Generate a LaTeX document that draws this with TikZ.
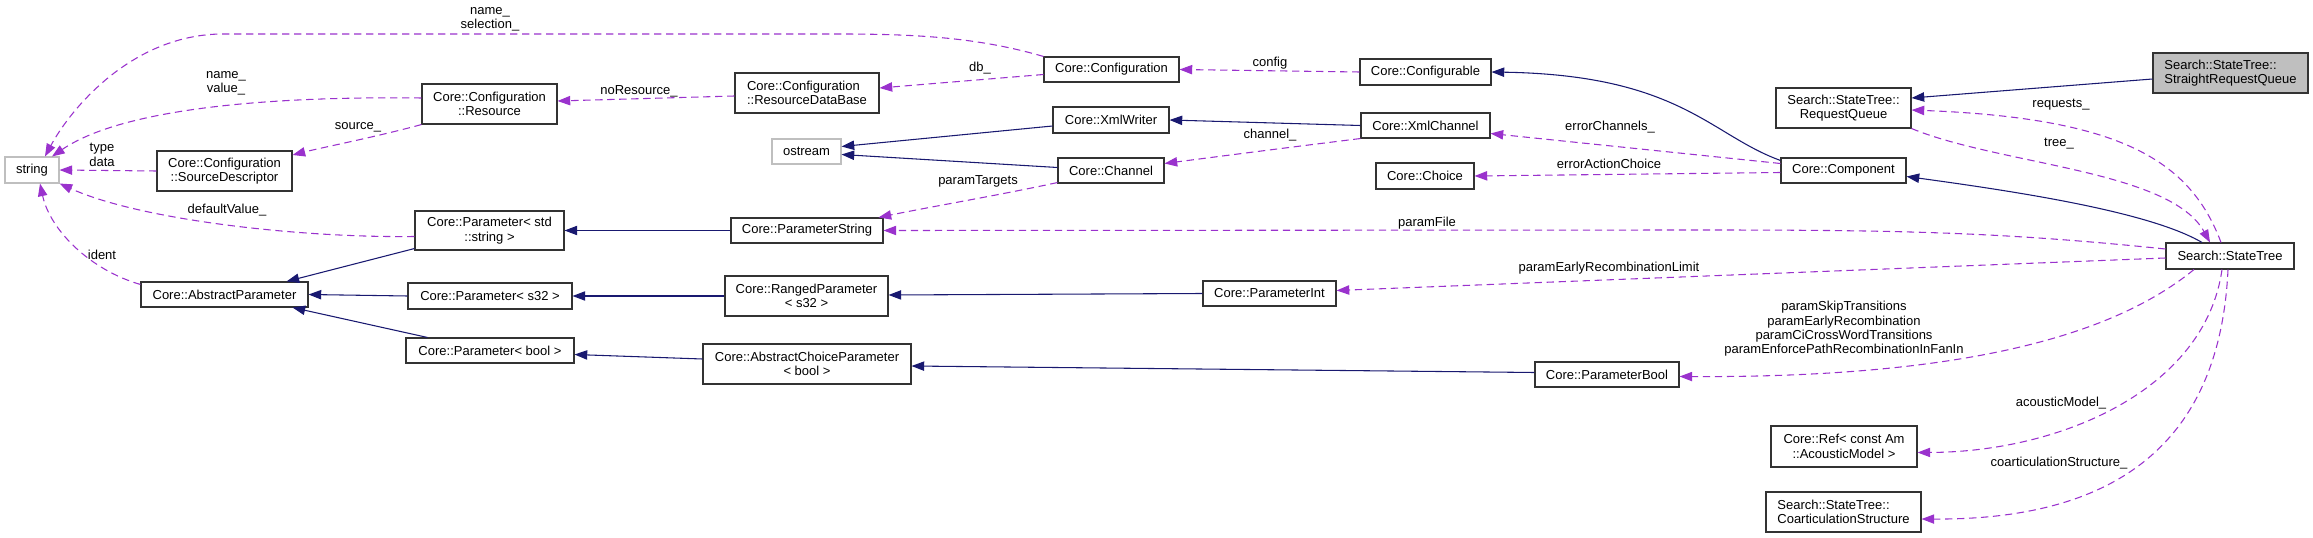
\documentclass[tikz,border=0pt]{standalone}
\usepackage{fontspec}
\setmainfont{Liberation Sans}
\usetikzlibrary{arrows.meta,calc}
\definecolor{navy}{RGB}{25,25,112}
\definecolor{purp}{RGB}{154,50,205}
\definecolor{extgray}{RGB}{191,191,191}
\newcommand\dxfont{\fontsize{9.75pt}{10.8pt}\selectfont}
\tikzset{
  cls/.style={draw=black!80, line width=0.8pt, fill=white, inner sep=0pt, align=center, font=\dxfont},
  extcls/.style={cls, draw=extgray},
  focus/.style={cls, fill=extgray},
  sz/.style 2 args={minimum width=#1*0.75pt, minimum height=#2*0.75pt},
  inh/.style={draw=navy, line width=0.8pt, -{Triangle[length=9.5pt,width=7pt]}},
  uses/.style={draw=purp, line width=0.8pt, dash pattern=on 5.5pt off 3.5pt, -{Triangle[length=9.5pt,width=7pt]}},
  lbl/.style={inner sep=0pt, align=center, font=\dxfont}
}
\begin{document}
\begin{tikzpicture}[x=0.75pt, y=-0.75pt]
\useasboundingbox (0,0) rectangle (2313,538);
% nodes
\node[extcls, sz={54}{26}] (string) at (32,170) {string};
\node[cls, sz={135}{40}] (resource) at (489.5,104) {Core::Configuration\\::Resource};
\node[cls, sz={135}{40}] (srcdesc) at (224.5,171) {Core::Configuration\\::SourceDescriptor};
\node[cls, sz={149}{39}] (pstdstr) at (489.5,230.5) {Core::Parameter< std\\::string >};
\node[cls, sz={167}{25}] (absparam) at (224.5,294.5) {Core::AbstractParameter};
\node[cls, sz={164}{26}] (ps32) at (490,296) {Core::Parameter< s32 >};
\node[cls, sz={168}{25}] (pbool) at (490,350.5) {Core::Parameter< bool >};
\node[cls, sz={144}{40}, align=left] (rdb) at (807,93) {Core::Configuration\\::ResourceDataBase};
\node[cls, sz={135}{25}] (config) at (1111.5,69.5) {Core::Configuration};
\node[cls, sz={131}{26}] (configurable) at (1425.5,72) {Core::Configurable};
\node[cls, sz={116}{26}] (xmlwriter) at (1111,120) {Core::XmlWriter};
\node[extcls, sz={69}{25}] (ostream) at (806.5,151.5) {ostream};
\node[cls, sz={129}{25}] (xmlchannel) at (1425.5,125.5) {Core::XmlChannel};
\node[cls, sz={106}{25}] (channel) at (1111,170.5) {Core::Channel};
\node[cls, sz={98}{26}] (choice) at (1425,176) {Core::Choice};
\node[cls, sz={152}{25}] (pstring) at (807,230.5) {Core::ParameterString};
\node[cls, sz={163}{40}] (ranged) at (806.5,296) {Core::RangedParameter\\< s32 >};
\node[cls, sz={133}{25}] (pint) at (1269.5,293.5) {Core::ParameterInt};
\node[cls, sz={208}{40}] (acp) at (807,364) {Core::AbstractChoiceParameter\\< bool >};
\node[focus, sz={155}{40}, align=left] (srq) at (2230.5,73) {Search::StateTree::\\StraightRequestQueue};
\node[cls, sz={135}{40}] (rq) at (1843.5,108) {Search::StateTree::\\RequestQueue};
\node[cls, sz={125}{25}] (component) at (1843.5,170.5) {Core::Component};
\node[cls, sz={128}{26}] (statetree) at (2230,256) {Search::StateTree};
\node[cls, sz={144}{25}] (pbool2) at (1607,374.5) {Core::ParameterBool};
\node[cls, sz={146}{41}] (ref) at (1844,446.5) {Core::Ref< const Am\\::AcousticModel >};
\node[cls, sz={155}{40}, align=left] (coart) at (1843.5,512) {Search::StateTree::\\CoarticulationStructure};

% inheritance edges
\draw[inh] ($(srq.west)+(0,6)$) -- ($(rq.east)+(0,-10)$);
\draw[inh] ($(component.north west)+(0,3)$) .. controls (1710,135) and (1680,75) .. (configurable.east);
\draw[inh] ($(statetree.north)+(-28,0)$) .. controls (2150,212) and (2020,192) .. ($(component.east)+(0,6)$);
\draw[inh] (xmlchannel.west) -- (xmlwriter.east);
\draw[inh] ($(xmlwriter.west)+(0,6)$) -- ($(ostream.east)+(0,-5)$);
\draw[inh] ($(channel.west)+(0,-3)$) -- ($(ostream.east)+(0,3)$);
\draw[inh] ($(pstdstr.south west)+(0,-2)$) -- ($(absparam.north)+(62,0)$);
\draw[inh] (ps32.west) -- (absparam.east);
\draw[inh] ($(pbool.north west)+(22,0)$) -- ($(absparam.south)+(68,0)$);
\draw[inh] (pstring.west) -- (pstdstr.east);
\draw[inh] (ranged.west) -- (ps32.east);
\draw[inh] (pint.west) -- ($(ranged.east)+(0,-1)$);
\draw[inh] ($(acp.west)+(0,-5)$) -- ($(pbool.east)+(0,4)$);
\draw[inh] ($(pbool2.west)+(0,-2)$) -- ($(acp.east)+(0,2)$);

% usage edges
\draw[uses] (config.north west) .. controls (980,38) and (920,34) .. (840,34) -- (220,34) .. controls (130,36) and (70,110) .. ($(string.north)+(13,0)$);
\draw[uses] ($(resource.west)+(0,-6)$) .. controls (260,96) and (120,110) .. ($(string.north)+(20,0)$);
\draw[uses] (resource.south west) .. controls (380,136) and (320,148) .. ($(srcdesc.east)+(0,-16)$);
\draw[uses] (srcdesc.west) -- (string.east);
\draw[uses] ($(pstdstr.west)+(0,6)$) .. controls (300,238) and (140,220) .. (string.south east);
\draw[uses] ($(absparam.north west)+(0,3)$) .. controls (90,270) and (50,230) .. ($(string.south)+(8,0)$);
\draw[uses] ($(rdb.west)+(0,3)$) -- ($(resource.east)+(0,-3)$);
\draw[uses] ($(config.west)+(0,5)$) -- ($(rdb.east)+(0,-5)$);
\draw[uses] (configurable.west) -- (config.east);
\draw[uses] (xmlchannel.south west) .. controls (1300,146) and (1230,155) .. ($(channel.east)+(0,-7)$);
\draw[uses] ($(channel.south west)+(0,-1)$) .. controls (1000,195) and (940,205) .. ($(pstring.north east)+(-5,0)$);
\draw[uses] ($(statetree.west)+(0,-7)$) .. controls (2000,232) and (1900,230) .. (1700,230) -- (pstring.east);
\draw[uses] ($(component.west)+(0,-7)$) -- ($(xmlchannel.east)+(0,8)$);
\draw[uses] ($(component.west)+(0,2)$) -- (choice.east);
\draw[uses] ($(statetree.north)+(-9,0)$) .. controls (2190,160) and (2120,118) .. ($(rq.east)+(0,2)$);
\draw[uses] (rq.south east) .. controls (2000,165) and (2170,170) .. ($(statetree.north)+(-20,0)$);
\draw[uses] ($(statetree.west)+(0,2)$) -- ($(pint.east)+(0,-3)$);
\draw[uses] ($(statetree.south)+(-36,0)$) .. controls (2120,330) and (1980,378) .. ($(pbool2.east)+(0,2)$);
\draw[uses] ($(statetree.south)+(-8,0)$) .. controls (2205,390) and (2060,452) .. ($(ref.east)+(0,6)$);
\draw[uses] ($(statetree.south)+(-2,0)$) .. controls (2220,440) and (2120,520) .. ($(coart.east)+(0,7)$);

% edge labels
\node[lbl] (l1) at (490,19.5) {name\_\\selection\_};
\node[lbl] (l2) at (226,83.5) {name\_\\value\_};
\node[lbl] (l3) at (358,127) {source\_};
\node[lbl] (l4) at (102,155) {type\\data};
\node[lbl] (l5) at (227,210) {defaultValue\_};
\node[lbl] (l6) at (102,255) {ident};
\node[lbl] (l7) at (639,91) {noResource\_};
\node[lbl] (l8) at (980,68) {db\_};
\node[lbl] (l9) at (1270,63) {config};
\node[lbl] (l10) at (1270,135) {channel\_};
\node[lbl] (l11) at (978,181) {paramTargets};
\node[lbl] (l12) at (1427,223) {paramFile};
\node[lbl] (l13) at (1610,127) {errorChannels\_};
\node[lbl] (l14) at (1609,164) {errorActionChoice};
\node[lbl] (l15) at (2061,105) {requests\_};
\node[lbl] (l16) at (2059,144) {tree\_};
\node[lbl] (l17) at (1609,268) {paramEarlyRecombinationLimit};
\node[lbl] (l18) at (1844,329) {paramSkipTransitions\\paramEarlyRecombination\\paramCiCrossWordTransitions\\paramEnforcePathRecombinationInFanIn};
\node[lbl] (l19) at (2061,403) {acousticModel\_};
\node[lbl] (l20) at (2059,463) {coarticulationStructure\_};
\end{tikzpicture}
\end{document}
